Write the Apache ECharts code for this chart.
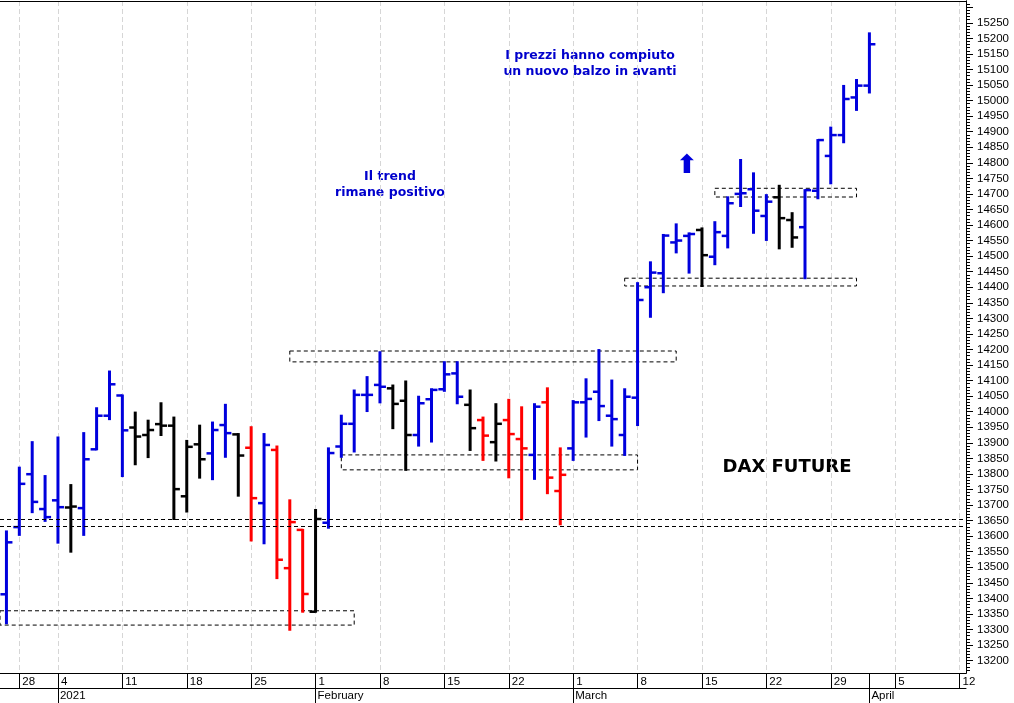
<!DOCTYPE html>
<html>
<head>
<meta charset="utf-8">
<title>DAX Future</title>
<script src="https://cdn.jsdelivr.net/npm/echarts@6.0.0/dist/echarts.min.js"></script>
<style>
  html, body { margin: 0; padding: 0; background: #fff; }
  #main { width: 1014px; height: 703px; }
</style>
</head>
<body>
<div id="main"></div>
<script>
// sedute (le ultime sono slot vuoti dopo l'1 aprile)
const dates = [
  '2020-12-23', '2020-12-28', '2020-12-29', '2020-12-30',
  '2021-01-04', '2021-01-05', '2021-01-06', '2021-01-07', '2021-01-08',
  '2021-01-11', '2021-01-12', '2021-01-13', '2021-01-14', '2021-01-15',
  '2021-01-18', '2021-01-19', '2021-01-20', '2021-01-21', '2021-01-22',
  '2021-01-25', '2021-01-26', '2021-01-27', '2021-01-28', '2021-01-29',
  '2021-02-01', '2021-02-02', '2021-02-03', '2021-02-04', '2021-02-05',
  '2021-02-08', '2021-02-09', '2021-02-10', '2021-02-11', '2021-02-12',
  '2021-02-15', '2021-02-16', '2021-02-17', '2021-02-18', '2021-02-19',
  '2021-02-22', '2021-02-23', '2021-02-24', '2021-02-25', '2021-02-26',
  '2021-03-01', '2021-03-02', '2021-03-03', '2021-03-04', '2021-03-05',
  '2021-03-08', '2021-03-09', '2021-03-10', '2021-03-11', '2021-03-12',
  '2021-03-15', '2021-03-16', '2021-03-17', '2021-03-18', '2021-03-19',
  '2021-03-22', '2021-03-23', '2021-03-24', '2021-03-25', '2021-03-26',
  '2021-03-29', '2021-03-30', '2021-03-31', '2021-04-01', '2021-04-02',
  '2021-04-05', '2021-04-06', '2021-04-07', '2021-04-08', '2021-04-09',
  '2021-04-12'
];

const opens = [
  13413, 13629, 13799, 13687, 13715, 13692, 13690, 13879, 13987, 14052,
  13949, 13925, 13960, 13955, 13728, 13895, 13866, 13957, 13927, 13884,
  13706, 13877, 13497, 13620, 13357, 13643, 13888, 13961, 14054, 14086,
  14075, 14035, 13925, 14040, 14072, 14123, 14022, 13973, 13902, 13973,
  13912, 13861, 14030, 13745, 13882, 14030, 14064, 13987, 13925, 14045,
  14400, 14445, 14544, 14565, 14584, 14498, 14565, 14700, 14715, 14629,
  14689, 14616, 14593, 14710, 14822, 14889, 15010, 15048
];
const highs = [
  13615, 13820, 13902, 13793, 13917, 13764, 13931, 14011, 14129, 14052,
  13997, 13971, 14027, 13981, 13906, 13955, 13965, 14022, 13928, 13950,
  13928, 13888, 13715, 13620, 13684, 13882, 13987, 14068, 14111, 14191,
  14084, 14097, 14048, 14072, 14159, 14159, 14068, 13981, 14024, 14038,
  14014, 14024, 14075, 13882, 14034, 14104, 14198, 14100, 14072, 14413,
  14480, 14568, 14602, 14573, 14589, 14609, 14689, 14809, 14766, 14696,
  14726, 14638, 14712, 14873, 14913, 15047, 15066, 15216
];
const lows = [
  13320, 13604, 13677, 13649, 13579, 13550, 13604, 13879, 13976, 13793,
  13831, 13854, 13925, 13655, 13679, 13788, 13783, 13855, 13730, 13586,
  13577, 13465, 13299, 13357, 13357, 13627, 13855, 13872, 14002, 14030,
  13947, 13813, 13891, 13904, 14067, 14027, 13877, 13845, 13843, 13789,
  13654, 13784, 13738, 13638, 13845, 13920, 13973, 13891, 13861, 13957,
  14305, 14384, 14512, 14447, 14404, 14474, 14528, 14661, 14575, 14552,
  14525, 14530, 14429, 14686, 14734, 14866, 14970, 15026
];
const closes = [
  13580, 13768, 13710, 13661, 13693, 13695, 13847, 13987, 14088, 13940,
  13920, 13941, 13955, 13751, 13887, 13847, 13941, 13931, 13859, 13722,
  13893, 13524, 13645, 13414, 13655, 13867, 13961, 14054, 14054, 14080,
  14025, 13925, 14027, 14070, 14120, 14048, 13947, 13923, 13961, 13928,
  13882, 14016, 13788, 13797, 14030, 14041, 14018, 13976, 14048, 14359,
  14447, 14566, 14550, 14571, 14503, 14577, 14670, 14702, 14646, 14675,
  14622, 14560, 14712, 14873, 14889, 15005, 15048, 15181
];
// b = blu, k = nero, r = rosso
const barColors = [
  'b', 'b', 'b', 'b', 'b', 'k', 'b', 'b', 'b', 'b',
  'k', 'k', 'k', 'k', 'k', 'k', 'b', 'b', 'k', 'r',
  'b', 'r', 'r', 'r', 'k', 'b', 'b', 'b', 'b', 'b',
  'k', 'k', 'b', 'b', 'b', 'b', 'k', 'r', 'k', 'r',
  'r', 'b', 'r', 'r', 'b', 'b', 'b', 'b', 'b', 'b',
  'b', 'b', 'b', 'b', 'k', 'b', 'b', 'b', 'b', 'b',
  'k', 'k', 'b', 'b', 'b', 'b', 'b', 'b'
];

// livelli tratteggiati
const supportLines = [13655, 13633];
const boxFrom = [null, '2021-01-28', '2021-02-03', '2021-03-05', '2021-03-16'];
const boxTo = ['2021-02-04', '2021-03-11', '2021-03-08', '2021-03-31', '2021-03-31'];
const boxHigh = [13360, 14195, 13861, 14429, 14718];
const boxLow = [13314, 14160, 13813, 14404, 14690];

const yLabels = [
  13200, 13250, 13300, 13350, 13400, 13450, 13500, 13550, 13600, 13650,
  13700, 13750, 13800, 13850, 13900, 13950, 14000, 14050, 14100, 14150,
  14200, 14250, 14300, 14350, 14400, 14450, 14500, 14550, 14600, 14650,
  14700, 14750, 14800, 14850, 14900, 14950, 15000, 15050, 15100, 15150,
  15200, 15250
];
const monthNames = ['2021', 'February', 'March', 'April'];

const palette = { b: '#0000dd', k: '#000000', r: '#ff0000' };
const yMin = 13160, yMax = 15320;

const majorTicks = yLabels.concat([15300]);
const minorTicks = [];
for (let v = 13170; v < yMax; v += 10) minorTicks.push(v);

function utcDay(s) { return new Date(s + 'T00:00:00Z'); }
const isWeekStart = dates.map(d => utcDay(d).getUTCDay() === 1);
const isMonthStart = dates.map((d, i) => i > 0 && utcDay(d).getUTCMonth() !== utcDay(dates[i - 1]).getUTCMonth());
const monthLabel = {};
let m = 0;
dates.forEach((d, i) => { if (isMonthStart[i]) monthLabel[d] = monthNames[m++]; });

const bars = opens.map((o, i) => [i, o, highs[i], lows[i], closes[i]]);

function renderBar(params, api) {
  const x = api.value(0);
  const o = api.coord([x, api.value(1)]);
  const h = api.coord([x, api.value(2)]);
  const l = api.coord([x, api.value(3)]);
  const c = api.coord([x, api.value(4)]);
  const color = palette[barColors[params.dataIndex]];
  const w = 6;
  return {
    type: 'group',
    children: [
      { type: 'line', shape: { x1: h[0], y1: h[1] - 1, x2: l[0], y2: l[1] + 1 }, style: { stroke: color, lineWidth: 3 } },
      { type: 'line', shape: { x1: o[0] - w, y1: o[1], x2: o[0], y2: o[1] }, style: { stroke: color, lineWidth: 2.5 } },
      { type: 'line', shape: { x1: c[0], y1: c[1], x2: c[0] + w, y2: c[1] }, style: { stroke: color, lineWidth: 2.5 } }
    ]
  };
}

const boxData = boxTo.map((to, i) => {
  const a = { yAxis: boxHigh[i] };
  if (boxFrom[i]) a.xAxis = boxFrom[i];
  return [a, { xAxis: to, yAxis: boxLow[i] }];
});

const axisFont = { fontFamily: 'Liberation Sans, Arial, sans-serif', fontSize: 11.5, color: '#000' };
const noteFont = 'bold 12.5px "DejaVu Sans", Verdana, sans-serif';

var myChart = echarts.init(document.getElementById('main'));
var option = {
  animation: false,
  backgroundColor: '#fff',
  grid: { left: 0, right: 48, top: 1, bottom: 30 },
  xAxis: [
    {
      type: 'category',
      data: dates,
      position: 'bottom',
      axisLine: { show: true, lineStyle: { color: '#000', width: 1 } },
      axisTick: {
        show: true, alignWithLabel: true, length: 15,
        interval: i => isWeekStart[i] || isMonthStart[i],
        lineStyle: { color: '#000', width: 1 }
      },
      axisLabel: Object.assign({
        interval: i => isWeekStart[i],
        formatter: v => String(utcDay(v).getUTCDate()),
        align: 'left', padding: [0, 0, 0, 3], margin: 3
      }, axisFont),
      splitLine: {
        show: true, alignWithLabel: true,
        interval: i => isWeekStart[i],
        lineStyle: { color: '#d6d6d6', type: [5, 3] }
      }
    },
    {
      type: 'category',
      data: dates,
      position: 'bottom',
      offset: 15,
      axisLine: { show: true, lineStyle: { color: '#000', width: 1 } },
      axisTick: {
        show: true, alignWithLabel: true, length: 16,
        interval: i => isMonthStart[i],
        lineStyle: { color: '#000', width: 1 }
      },
      axisLabel: Object.assign({
        interval: i => isMonthStart[i],
        formatter: v => monthLabel[v] || '',
        align: 'left', padding: [0, 0, 0, 2], margin: 2
      }, axisFont),
      splitLine: { show: false }
    },
    {
      type: 'category',
      data: dates,
      position: 'top',
      axisLine: { show: true, lineStyle: { color: '#000', width: 1 } },
      axisTick: { show: false },
      axisLabel: { show: false }
    }
  ],
  yAxis: [
    {
      type: 'value',
      position: 'right',
      min: yMin, max: yMax,
      axisLine: { show: true, lineStyle: { color: '#000' } },
      axisTick: { show: true, customValues: majorTicks, length: 7, lineStyle: { color: '#000' } },
      axisLabel: Object.assign({ customValues: yLabels, margin: 11, formatter: v => String(v) }, axisFont),
      splitLine: { show: false }
    },
    {
      type: 'value',
      position: 'right',
      min: yMin, max: yMax,
      axisLine: { show: true, lineStyle: { color: '#000' } },
      axisTick: { show: true, customValues: minorTicks, length: 4, lineStyle: { color: '#000' } },
      axisLabel: { show: false },
      splitLine: { show: false }
    }
  ],
  series: [
    {
      name: 'DAX future',
      type: 'custom',
      renderItem: renderBar,
      encode: { x: 0, y: [1, 2, 3, 4] },
      data: bars,
      z: 3,
      markLine: {
        silent: true,
        symbol: 'none',
        label: { show: false },
        lineStyle: { color: '#000', width: 1, type: [4, 3] },
        data: supportLines.map(v => ({ yAxis: v }))
      },
      markArea: {
        silent: true,
        label: { show: false },
        itemStyle: { color: 'rgba(0,0,0,0)', borderColor: '#000', borderWidth: 1, borderType: [4, 3] },
        data: boxData
      }
    }
  ],
  graphic: [
    { type: 'text', style: { text: 'Il trend\nrimane positivo', x: 390, y: 185, textAlign: 'center', textVerticalAlign: 'middle', font: noteFont, lineHeight: 16, fill: '#0000cc' } },
    { type: 'text', style: { text: 'I prezzi hanno compiuto\nun nuovo balzo in avanti', x: 590, y: 64, textAlign: 'center', textVerticalAlign: 'middle', font: noteFont, lineHeight: 16, fill: '#0000cc' } },
    { type: 'text', style: { text: '\u2b06', x: 687, y: 166, textAlign: 'center', textVerticalAlign: 'middle', font: 'bold 26px "DejaVu Sans", sans-serif', fill: '#0000dd' } },
    { type: 'text', style: { text: 'DAX FUTURE', x: 787, y: 467, textAlign: 'center', textVerticalAlign: 'middle', font: 'bold 18px "DejaVu Sans", Verdana, sans-serif', fill: '#000' } }
  ]
};

option && myChart.setOption(option);
</script>
</body>
</html>
